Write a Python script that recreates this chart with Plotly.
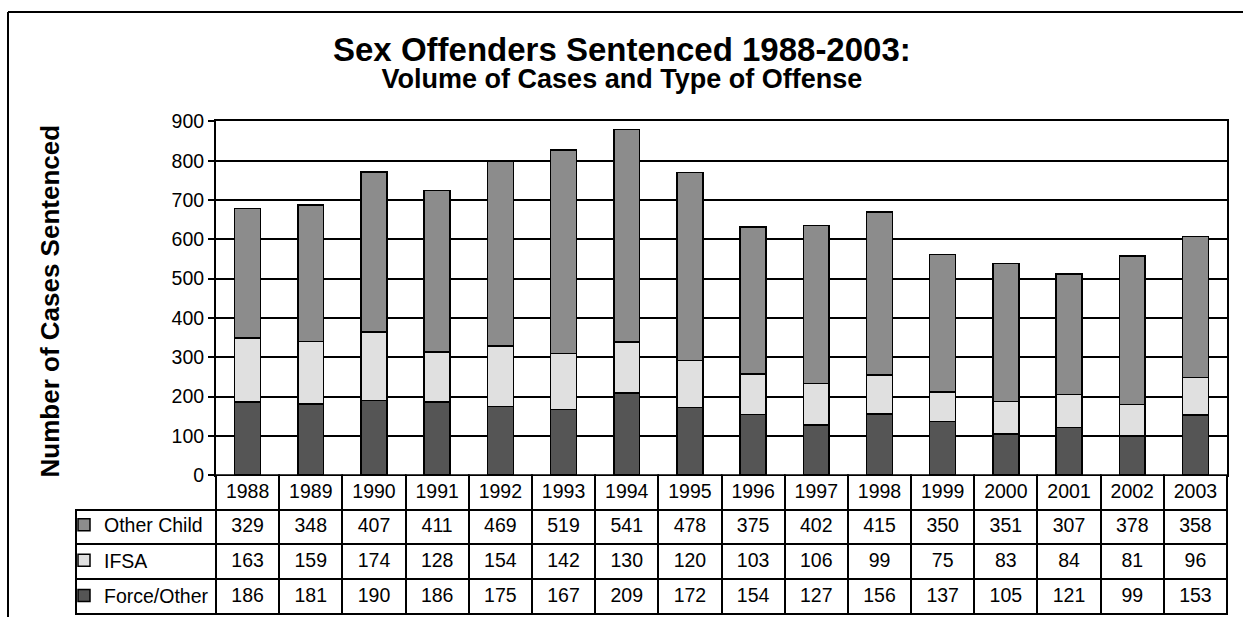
import plotly.graph_objects as go

years = [str(y) for y in range(1988, 2004)]
other_child = [329, 348, 407, 411, 469, 519, 541, 478, 375, 402, 415, 350, 351, 307, 378, 358]
ifsa = [163, 159, 174, 128, 154, 142, 130, 120, 103, 106, 99, 75, 83, 84, 81, 96]
force_other = [186, 181, 190, 186, 175, 167, 209, 172, 154, 127, 156, 137, 105, 121, 99, 153]
series_names = ["Other Child", "IFSA", "Force/Other"]
series_colors = ["#8c8c8c", "#e0e0e0", "#555555"]
y_ticks = list(range(0, 1000, 100))

W, H = 1243, 628
FONT = "Arial, Liberation Sans, sans-serif"


def px_x(p):
    return p / W


def px_y(p):
    return 1 - p / H


fig = go.Figure()

# stacked bars, bottom to top (legend swatches act as the table row keys)
for rank, name, vals, col in [
    (3, series_names[2], force_other, series_colors[2]),
    (2, series_names[1], ifsa, series_colors[1]),
    (1, series_names[0], other_child, series_colors[0]),
]:
    fig.add_trace(go.Bar(
        x=years, y=vals, name=name, legendgroup=name, legendrank=rank,
        marker=dict(color=col, line=dict(color="black", width=1.5)),
        width=0.41, showlegend=True,
    ))

# data table below the plot
cols = [["", "", ""]] + [[other_child[i], ifsa[i], force_other[i]] for i in range(len(years))]

plot_x0, plot_x1 = 216, 1227
table_x0 = 76
plot_y_top, plot_y_bot = 114.5, 481
row_h = 34.6

cat_w = (plot_x1 - plot_x0) / len(years)
label_w = plot_x0 - table_x0
clear = "rgba(0,0,0,0)"

fig.add_trace(go.Table(
    domain=dict(x=[px_x(table_x0), px_x(plot_x1)], y=[0, px_y(plot_y_bot)]),
    columnwidth=[label_w] + [cat_w] * len(years),
    header=dict(
        values=[""] + years,
        fill=dict(color=[clear] + ["white"] * len(years)),
        line=dict(color=[clear] + ["black"] * len(years), width=2),
        font=dict(family=FONT, size=19.5, color="black"),
        align="center", height=row_h,
    ),
    cells=dict(
        values=cols,
        fill_color="white",
        line=dict(color="black", width=2),
        font=dict(family=FONT, size=19.5, color="black"),
        align=["left"] + ["center"] * len(years), height=row_h,
    ),
))

fig.update_layout(
    width=W, height=H,
    margin=dict(l=0, r=0, t=0, b=0),
    paper_bgcolor="white", plot_bgcolor="white",
    barmode="stack",
    font=dict(family=FONT, size=19, color="black"),
    legend=dict(
        x=px_x(64), xanchor="left", y=px_y(plot_y_bot + row_h - 3), yanchor="top",
        traceorder="grouped", tracegroupgap=7.0,
        bgcolor=clear, borderwidth=0,
        font=dict(family=FONT, size=19.5, color="black"),
        itemclick=False, itemdoubleclick=False,
    ),
    xaxis=dict(
        domain=[px_x(plot_x0), px_x(plot_x1)],
        range=[-0.5, len(years) - 0.5],
        showticklabels=False, ticks="",
        showline=True, linecolor="black", linewidth=2, mirror=True,
        showgrid=False, zeroline=False,
    ),
    yaxis=dict(
        domain=[px_y(plot_y_bot), px_y(plot_y_top)],
        range=[0, 900], tickvals=y_ticks,
        showline=True, linecolor="black", linewidth=2, mirror=True,
        ticks="outside", ticklen=6, tickwidth=2, tickcolor="black",
        showgrid=True, gridcolor="black", gridwidth=1.5,
        zeroline=False,
        tickfont=dict(family=FONT, size=19.5, color="black"),
    ),
    annotations=[
        dict(text="<b><span style='font-size:33px'>Sex Offenders Sentenced 1988-2003:</span></b><br>"
                  "<b><span style='font-size:27px'>Volume of Cases and Type of Offense</span></b>",
             x=0.5, y=px_y(53), xref="paper", yref="paper", showarrow=False,
             yanchor="middle", align="center",
             font=dict(family=FONT, size=20.5, color="black")),
        dict(text="<b>Number of Cases Sentenced</b>", x=px_x(50), y=px_y(301),
             xref="paper", yref="paper", showarrow=False, textangle=-90,
             xanchor="center", yanchor="middle",
             font=dict(family=FONT, size=26, color="black")),
    ],
    shapes=[
        dict(type="line", xref="paper", yref="paper", x0=px_x(8), x1=1, y0=px_y(1), y1=px_y(1),
             line=dict(color="black", width=2)),
        dict(type="line", xref="paper", yref="paper", x0=px_x(8), x1=px_x(8), y0=px_y(1), y1=0,
             line=dict(color="black", width=2)),
    ],
)

fig.write_html(
    "out.html",
    config={"displayModeBar": False},
    post_script="document.body.style.margin='0';document.body.style.padding='0';"
                "document.documentElement.style.overflow='hidden';",
)
